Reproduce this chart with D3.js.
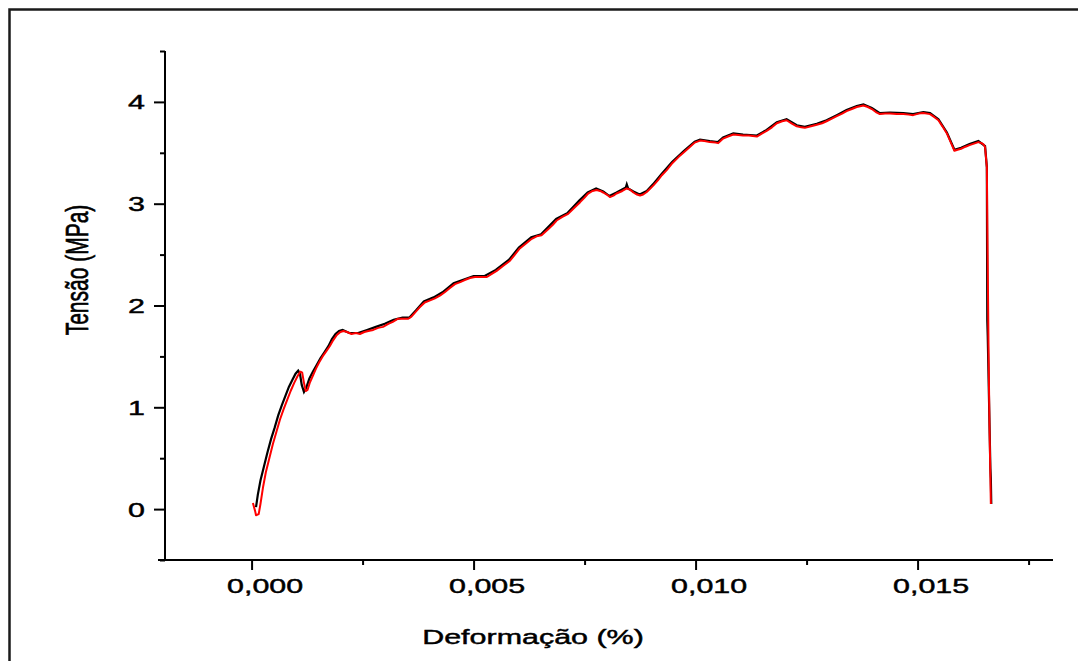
<!DOCTYPE html>
<html>
<head>
<meta charset="utf-8">
<script src="https://cdn.jsdelivr.net/npm/d3@7"></script>
<style>
  html, body { margin: 0; padding: 0; background: #fff; }
  svg { display: block; }
  text { font-family: "Liberation Sans", Arial, sans-serif; fill: #000; stroke: #000; stroke-width: 0.45px; }
</style>
</head>
<body>
<svg id="chart" width="1078" height="661"></svg>
<script>
// Stress–strain record of the specimen (two overlaid traces)
const redStrain = [0.00003,0.00008,0.00010,0.00016,0.00020,0.00026,0.00032,0.00040,0.00048,0.00056,0.00064,0.00072,0.00080,0.00088,0.00096,0.00104,0.00110,0.00114,0.00118,0.00122,0.00126,0.00131,0.00138,0.00145,0.00152,0.00160,0.00168,0.00176,0.00184,0.00192,0.00200,0.00207,0.00215,0.00225,0.00235,0.00244,0.00254,0.00263,0.00274,0.00285,0.00296,0.00308,0.00318,0.00330,0.00342,0.00353,0.00360,0.00368,0.00378,0.00390,0.00402,0.00413,0.00425,0.00435,0.00446,0.00458,0.00470,0.00480,0.00492,0.00503,0.00514,0.00530,0.00541,0.00552,0.00567,0.00582,0.00593,0.00604,0.00618,0.00631,0.00642,0.00653,0.00668,0.00678,0.00687,0.00700,0.00713,0.00727,0.00740,0.00750,0.00758,0.00768,0.00777,0.00785,0.00792,0.00800,0.00807,0.00815,0.00822,0.00835,0.00845,0.00852,0.00860,0.00868,0.00875,0.00882,0.00890,0.00898,0.00905,0.00915,0.00924,0.00935,0.00948,0.00962,0.00975,0.00987,0.00998,0.01010,0.01020,0.01032,0.01045,0.01051,0.01062,0.01073,0.01085,0.01096,0.01107,0.01120,0.01138,0.01150,0.01160,0.01172,0.01183,0.01195,0.01205,0.01216,0.01228,0.01238,0.01246,0.01260,0.01273,0.01285,0.01295,0.01307,0.01318,0.01330,0.01340,0.01352,0.01363,0.01378,0.01388,0.01397,0.01406,0.01415,0.01427,0.01438,0.01453,0.01468,0.01480,0.01490,0.01502,0.01513,0.01528,0.01538,0.01547,0.01556,0.01566,0.01575,0.01583,0.01590,0.01598,0.01608,0.01617,0.01627,0.01637,0.01644,0.01649,0.01652,0.01656,0.01658,0.01660,0.01662,0.01665];
const redStress = [0.06,-0.02,-0.06,-0.05,0.05,0.22,0.36,0.50,0.64,0.76,0.88,0.98,1.07,1.16,1.24,1.31,1.35,1.34,1.24,1.16,1.17,1.24,1.31,1.38,1.44,1.50,1.55,1.60,1.66,1.71,1.74,1.75,1.74,1.72,1.73,1.72,1.74,1.75,1.76,1.78,1.79,1.82,1.84,1.87,1.87,1.87,1.89,1.93,1.98,2.03,2.05,2.07,2.10,2.13,2.17,2.21,2.23,2.25,2.27,2.28,2.28,2.28,2.31,2.34,2.39,2.44,2.50,2.56,2.61,2.655,2.68,2.69,2.75,2.79,2.835,2.87,2.90,2.96,3.015,3.06,3.10,3.125,3.135,3.125,3.11,3.09,3.065,3.08,3.10,3.125,3.15,3.14,3.11,3.09,3.08,3.09,3.115,3.15,3.18,3.23,3.28,3.33,3.40,3.46,3.51,3.556,3.60,3.62,3.615,3.605,3.60,3.595,3.64,3.66,3.68,3.675,3.67,3.67,3.66,3.69,3.715,3.75,3.79,3.81,3.82,3.79,3.76,3.75,3.745,3.76,3.775,3.79,3.81,3.835,3.86,3.885,3.91,3.93,3.95,3.965,3.95,3.93,3.90,3.88,3.885,3.885,3.88,3.88,3.875,3.87,3.885,3.89,3.88,3.85,3.82,3.76,3.69,3.60,3.52,3.53,3.54,3.56,3.575,3.59,3.605,3.595,3.58,3.556,3.36,2.40,1.50,0.80,0.05];

const blackStrain = [0.00010,0.00014,0.00020,0.00028,0.00036,0.00044,0.00052,0.00060,0.00068,0.00076,0.00084,0.00092,0.00099,0.00105,0.00109,0.00113,0.00118,0.00123,0.00130,0.00138,0.00146,0.00155,0.00164,0.00173,0.00181,0.00189,0.00197,0.00205,0.00220,0.00240,0.00260,0.00280,0.00300,0.00320,0.00340,0.00355,0.00370,0.00388,0.00410,0.00430,0.00455,0.00475,0.00500,0.00525,0.00550,0.00580,0.00602,0.00630,0.00652,0.00686,0.00712,0.00738,0.00757,0.00776,0.00792,0.00806,0.00822,0.00843,0.00845,0.00848,0.00860,0.00874,0.00890,0.00904,0.00923,0.00947,0.00974,0.00998,0.01010,0.01032,0.01050,0.01062,0.01085,0.01107,0.01138,0.01160,0.01183,0.01205,0.01228,0.01246,0.01273,0.01295,0.01318,0.01340,0.01363,0.01378,0.01397,0.01415,0.01438,0.01468,0.01490,0.01513,0.01528,0.01547,0.01566,0.01583,0.01598,0.01617,0.01637,0.01652,0.01656,0.01657,0.01658,0.01664,0.01665,0.01666];
const blackStress = [0.02,0.14,0.28,0.42,0.56,0.69,0.80,0.92,1.02,1.11,1.20,1.27,1.33,1.36,1.33,1.22,1.15,1.19,1.28,1.35,1.41,1.48,1.54,1.60,1.67,1.72,1.75,1.76,1.73,1.73,1.76,1.79,1.82,1.86,1.88,1.88,1.95,2.04,2.08,2.13,2.22,2.25,2.29,2.29,2.35,2.45,2.57,2.67,2.70,2.85,2.91,3.03,3.11,3.15,3.12,3.075,3.11,3.16,3.19,3.15,3.12,3.09,3.125,3.19,3.29,3.41,3.52,3.61,3.63,3.615,3.605,3.65,3.69,3.68,3.67,3.725,3.80,3.83,3.77,3.755,3.785,3.82,3.87,3.92,3.96,3.975,3.94,3.89,3.895,3.89,3.88,3.90,3.89,3.83,3.70,3.53,3.55,3.585,3.615,3.565,3.36,1.85,1.70,0.40,0.30,0.05];

// Axis ticks
const xMajorTicks = [0, 0.005, 0.010, 0.015];
const xMinorTicks = [0.0025, 0.0075, 0.0125, 0.0175];
const yMajorTicks = [0, 1, 2, 3, 4];
const yMinorTicks = [-0.5, 0.5, 1.5, 2.5, 3.5, 4.5];
const xTitle = "Deformação (%)";
const yTitle = "Tensão (MPa)";

const svg = d3.select("#chart");
const stretch = 1.45;   // wide lettering of the plot

// Outer frame
svg.append("rect")
  .attr("x", 9.5).attr("y", 9.5)
  .attr("width", 1200).attr("height", 800)
  .attr("fill", "none").attr("stroke", "#1a1a1a").attr("stroke-width", 2.5);

const x = d3.scaleLinear().domain([-0.00195, 0.01805]).range([165, 1053]);
const y = d3.scaleLinear().domain([-0.5, 4.5]).range([560, 51]);

const fmt = d => d3.format(".3f")(d).replace(".", ",");

// X axis
const gx = svg.append("g").attr("transform", `translate(0,${y.range()[0]})`);
gx.append("line")
  .attr("x1", x.range()[0] - 7).attr("x2", x.range()[1])
  .attr("stroke", "#000").attr("stroke-width", 2);
gx.append("g").call(d3.axisBottom(x).tickValues(xMinorTicks).tickSize(5).tickFormat(""))
  .call(g => g.select(".domain").remove())
  .call(g => g.selectAll("line").attr("stroke-width", 2));
gx.append("g").call(d3.axisBottom(x).tickValues(xMajorTicks).tickSize(10).tickFormat(fmt))
  .call(g => g.select(".domain").remove())
  .call(g => g.selectAll("line").attr("stroke-width", 2))
  .call(g => g.selectAll("text")
    .attr("y", 0).attr("dy", null)
    .attr("transform", `translate(13,33) scale(${stretch},1)`)
    .attr("font-size", 21).attr("fill", "#000")
    .attr("font-family", "Liberation Sans, Arial, sans-serif"));

// Y axis
const gy = svg.append("g").attr("transform", `translate(${x.range()[0]},0)`);
gy.append("line")
  .attr("y1", y.range()[0]).attr("y2", y.range()[1])
  .attr("stroke", "#000").attr("stroke-width", 2);
gy.append("g").call(d3.axisLeft(y).tickValues(yMinorTicks).tickSize(5).tickFormat(""))
  .call(g => g.select(".domain").remove())
  .call(g => g.selectAll("line").attr("stroke-width", 2));
gy.append("g").call(d3.axisLeft(y).tickValues(yMajorTicks).tickSize(11).tickFormat(d3.format("d")))
  .call(g => g.select(".domain").remove())
  .call(g => g.selectAll("line").attr("stroke-width", 2))
  .call(g => g.selectAll("text")
    .attr("x", 0).attr("dy", null)
    .attr("text-anchor", "end")
    .attr("transform", `translate(-20,7) scale(${stretch},1)`)
    .attr("font-size", 21).attr("fill", "#000")
    .attr("font-family", "Liberation Sans, Arial, sans-serif"));

// Axis titles
svg.append("text")
  .attr("transform", `translate(533,644) scale(${stretch},1)`)
  .attr("text-anchor", "middle").attr("font-size", 21)
  .text(xTitle);
svg.append("text")
  .attr("transform", `translate(88,270) scale(${stretch},1) rotate(-90)`)
  .attr("text-anchor", "middle").attr("font-size", 21)
  .text(yTitle);

// Traces
const line = d3.line().x(d => x(d[0])).y(d => y(d[1]));
const blackPts = blackStrain.map((s, i) => [s, blackStress[i]]);
const redPts = redStrain.map((s, i) => [s, redStress[i]]);

svg.append("path").datum(blackPts)
  .attr("d", line).attr("fill", "none")
  .attr("stroke", "#000").attr("stroke-width", 2.2).attr("stroke-linejoin", "miter");
svg.append("path").datum(redPts)
  .attr("d", line).attr("fill", "none")
  .attr("stroke", "#ff0000").attr("stroke-width", 2).attr("stroke-linejoin", "round");
</script>
</body>
</html>
